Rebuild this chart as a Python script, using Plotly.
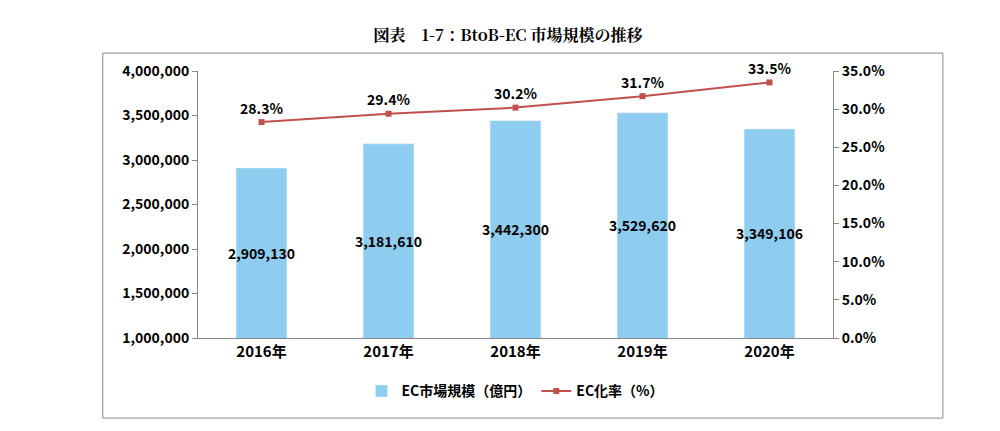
import plotly.graph_objects as go

years = ["2016年", "2017年", "2018年", "2019年", "2020年"]
market = [2909130, 3181610, 3442300, 3529620, 3349106]
ec_rate = [28.3, 29.4, 30.2, 31.7, 33.5]

font = "Noto Sans CJK JP"
fig = go.Figure()
fig.add_trace(go.Bar(
    x=years, y=market, name="<b>EC市場規模（億円）</b>",
    marker_color="#8ECDF0", width=0.4))
fig.add_trace(go.Scatter(
    x=years, y=ec_rate, name="<b>EC化率（%）</b>", yaxis="y2",
    mode="lines+markers+text", cliponaxis=False,
    line=dict(color="#C0504D", width=2),
    marker=dict(symbol="square", size=6, color="#C0504D"),
    text=[f"<b>{v}%</b>" for v in ec_rate], textposition="top center",
    textfont=dict(size=14, color="black", family=font)))

# bar value labels, centred in each bar
annotations = [dict(x=yr, y=(1000000 + v) / 2, text=f"<b>{v:,}</b>", showarrow=False,
                    font=dict(size=14, color="black", family=font))
               for yr, v in zip(years, market)]

fig.update_layout(
    width=1000, height=431,
    paper_bgcolor="white", plot_bgcolor="white",
    margin=dict(l=190, r=175, t=63, b=101, autoexpand=False),
    font=dict(family=font, size=13, color="black"),
    title=dict(text="<b>図表　1-7：BtoB-EC 市場規模の推移</b>", x=0.5, y=0.95,
               xanchor="center", font=dict(family="Noto Serif CJK JP, serif", size=16)),
    showlegend=True,
    legend=dict(orientation="h", x=0.5, xanchor="center", y=-0.2, yanchor="middle",
                font=dict(size=14)),
    annotations=annotations,
    xaxis=dict(showline=True, linecolor="#888", tickfont=dict(size=15), ticks=""),
    yaxis=dict(range=[1000000, 4000000], dtick=500000, tickformat=",",
               showgrid=False, showline=True, linecolor="#888",
               ticks="outside", tickcolor="#888",
               tickprefix="<b>", ticksuffix="</b>", tickfont=dict(size=14)),
    yaxis2=dict(range=[0, 35], dtick=5, ticksuffix=".0%</b>", tickprefix="<b>",
                overlaying="y", side="right", showgrid=False, showline=True,
                linecolor="#888", ticks="outside", tickcolor="#888",
                tickfont=dict(size=14)),
    shapes=[dict(type="rect", xref="paper", yref="paper",
                 x0=-0.15, x1=1.173, y0=-0.30, y1=1.067,
                 line=dict(color="#888", width=1))],
)
fig.update_xaxes(tickprefix="<b>", ticksuffix="</b>")
fig.write_html("out.html")
